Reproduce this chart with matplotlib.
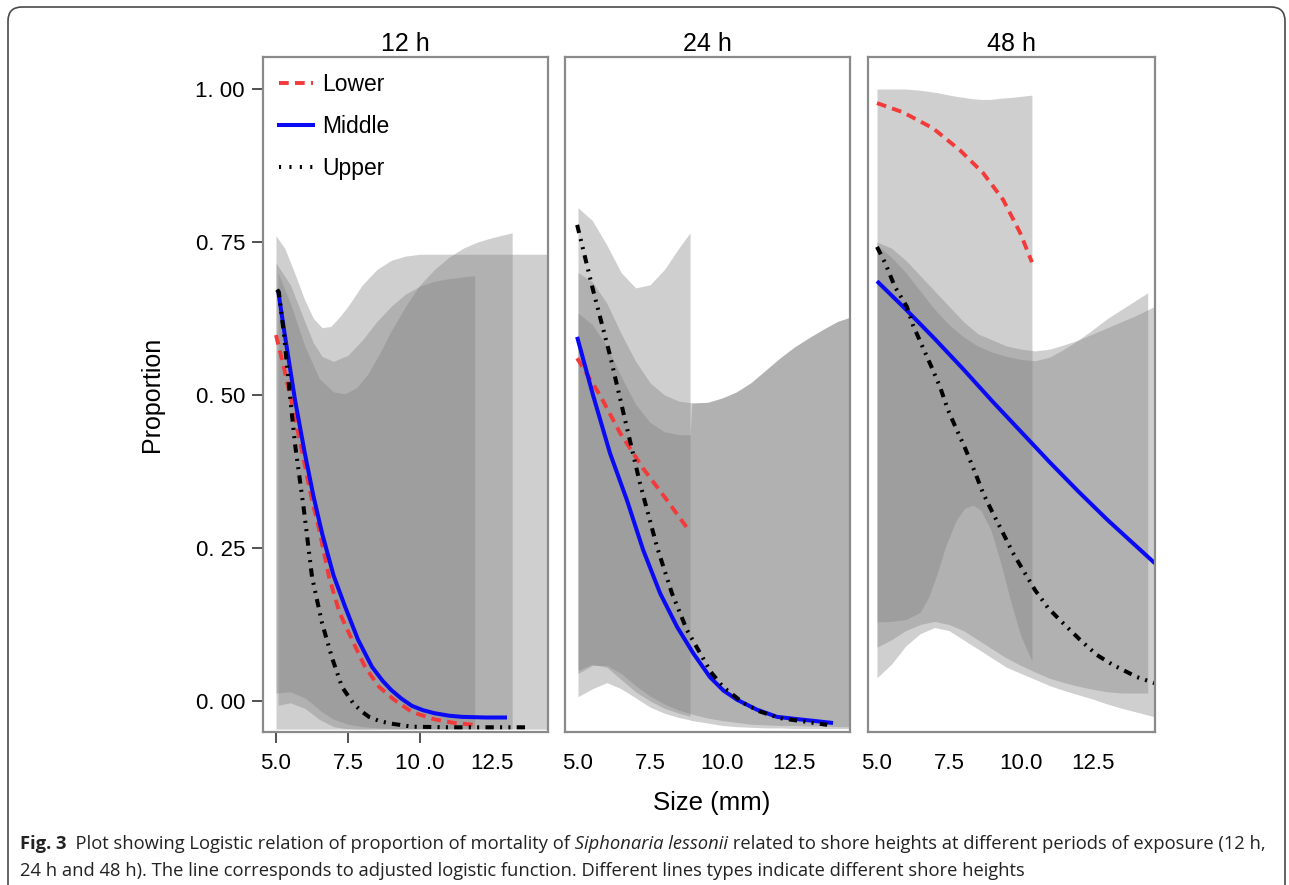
import matplotlib
matplotlib.use('Agg')
import matplotlib.pyplot as plt
from matplotlib.lines import Line2D
from matplotlib.patches import FancyBboxPatch
from matplotlib.transforms import IdentityTransform

plt.rcParams['font.family'] = ['Liberation Sans', 'DejaVu Sans']
plt.rcParams['lines.scale_dashes'] = False

W, H = 1289, 885

# ---------------- data ----------------
panels = ['12 h', '24 h', '48 h']
shore = ['Lower', 'Middle', 'Upper']

# 12 h
lower_x_12 = [5.0, 5.3, 5.63, 6.0, 6.25, 6.5, 6.84, 7.2, 7.64, 8.1, 8.58, 9.1, 9.72, 10.5, 11.2, 11.9]
lower_y_12 = [0.598, 0.54, 0.47, 0.385, 0.328, 0.28, 0.203, 0.145, 0.10, 0.055, 0.023, 0.002, -0.018, -0.03, -0.036, -0.039]
middle_x_12 = [5.07, 5.3, 5.66, 6.0, 6.3, 6.6, 7.0, 7.4, 7.85, 8.33, 8.7, 9.0, 9.35, 9.72, 10.1, 10.5, 11.0, 11.46, 12.3, 13.02]
middle_y_12 = [0.672, 0.6, 0.492, 0.405, 0.335, 0.274, 0.205, 0.154, 0.10, 0.056, 0.033, 0.018, 0.004, -0.008, -0.015, -0.02, -0.024, -0.026, -0.027, -0.027]
upper_x_12 = [5.03, 5.1, 5.28, 5.49, 5.66, 5.97, 6.25, 6.6, 6.95, 7.29, 7.7, 8.0, 8.23, 8.6, 9.0, 9.72, 11.0, 12.5, 13.7]
upper_y_12 = [0.672, 0.668, 0.598, 0.497, 0.42, 0.312, 0.203, 0.127, 0.07, 0.023, -0.005, -0.018, -0.026, -0.033, -0.037, -0.042, -0.043, -0.043, -0.043]

band_lower_x_12 = [5.0, 5.5, 6.0, 6.3, 6.6, 7.0, 7.5, 8.0, 8.5, 9.0, 9.5, 10.0, 10.5, 11.0, 11.5, 11.9]
band_lower_hi_12 = [0.716, 0.68, 0.62, 0.585, 0.563, 0.555, 0.565, 0.59, 0.62, 0.645, 0.665, 0.678, 0.686, 0.69, 0.693, 0.695]
band_lower_lo_12 = [0.013, 0.015, 0.005, -0.006, -0.018, -0.03, -0.038, -0.042, -0.044, -0.045, -0.045, -0.045, -0.045, -0.045, -0.045, -0.045]
band_middle_x_12 = [5.07, 5.5, 6.0, 6.5, 7.0, 7.4, 7.8, 8.2, 8.6, 9.0, 9.5, 10.0, 10.5, 11.0, 11.5, 12.0, 12.5, 13.2]
band_middle_hi_12 = [0.70, 0.65, 0.58, 0.527, 0.505, 0.502, 0.512, 0.535, 0.568, 0.605, 0.645, 0.68, 0.705, 0.725, 0.74, 0.75, 0.757, 0.765]
band_middle_lo_12 = [-0.007, -0.003, -0.012, -0.03, -0.042, -0.045, -0.046, -0.046, -0.046, -0.046, -0.046, -0.046, -0.046, -0.046, -0.046, -0.046, -0.046, -0.046]
band_upper_x_12 = [5.0, 5.3, 5.6, 6.0, 6.3, 6.6, 6.9, 7.2, 7.5, 8.0, 8.5, 9.0, 9.5, 10.0, 11.0, 12.0, 13.0, 14.44]
band_upper_hi_12 = [0.76, 0.74, 0.705, 0.655, 0.625, 0.61, 0.612, 0.627, 0.645, 0.68, 0.705, 0.72, 0.727, 0.73, 0.73, 0.73, 0.73, 0.73]
band_upper_lo_12 = [-0.046] * 18

# 24 h
lower_x_24 = [4.97, 5.76, 6.46, 7.26, 8.09, 8.89]
lower_y_24 = [0.56, 0.50, 0.438, 0.38, 0.328, 0.276]
middle_x_24 = [4.97, 5.52, 6.11, 6.7, 7.26, 7.85, 8.44, 9.0, 9.58, 10.05, 10.52, 11.2, 11.91, 13.85]
middle_y_24 = [0.595, 0.5, 0.405, 0.328, 0.247, 0.176, 0.121, 0.078, 0.039, 0.017, 0.002, -0.014, -0.026, -0.036]
upper_x_24 = [4.97, 5.52, 6.11, 6.63, 7.15, 7.74, 8.26, 8.78, 9.24, 9.6, 10.03, 10.73, 11.3, 12.01, 13.65]
upper_y_24 = [0.778, 0.672, 0.565, 0.46, 0.356, 0.252, 0.176, 0.116, 0.078, 0.048, 0.023, -0.003, -0.017, -0.028, -0.039]

band_lower_x_24 = [5.0, 5.5, 6.0, 6.5, 7.0, 7.5, 8.0, 8.5, 8.89]
band_lower_hi_24 = [0.806, 0.785, 0.745, 0.70, 0.675, 0.68, 0.705, 0.74, 0.765]
band_lower_lo_24 = [0.05, 0.06, 0.055, 0.035, 0.015, 0.0, -0.012, -0.02, -0.025]
band_middle_x_24 = [5.0, 5.5, 6.0, 6.5, 7.0, 7.5, 8.0, 8.5, 8.89, 8.95, 9.5, 10.0, 10.5, 11.0, 11.5, 12.0, 12.5, 13.0, 13.5, 14.0, 14.44]
band_middle_hi_24 = [0.634, 0.615, 0.58, 0.53, 0.485, 0.455, 0.44, 0.435, 0.435, 0.487, 0.488, 0.495, 0.505, 0.52, 0.54, 0.56, 0.578, 0.593, 0.607, 0.62, 0.627]
band_middle_lo_24 = [0.007, 0.02, 0.03, 0.02, 0.005, -0.01, -0.02, -0.027, -0.031, -0.032, -0.036, -0.04, -0.042, -0.043, -0.044, -0.044, -0.045, -0.045, -0.045, -0.045, -0.045]
band_upper_x_24 = [5.0, 5.5, 6.0, 6.5, 7.0, 7.5, 8.0, 8.5, 9.0, 9.5, 10.0, 10.5, 11.0, 11.5, 12.0, 12.5, 13.0, 13.5, 14.0, 14.44]
band_upper_hi_24 = [0.70, 0.685, 0.65, 0.60, 0.555, 0.52, 0.50, 0.49, 0.487, 0.488, 0.495, 0.505, 0.52, 0.54, 0.56, 0.578, 0.593, 0.607, 0.62, 0.627]
band_upper_lo_24 = [0.045, 0.058, 0.058, 0.045, 0.025, 0.008, -0.005, -0.015, -0.022, -0.028, -0.032, -0.035, -0.038, -0.039, -0.04, -0.04, -0.041, -0.041, -0.042, -0.042]

# 48 h
lower_x_48 = [5.0, 5.9, 6.94, 7.88, 8.68, 9.38, 9.97, 10.38]
lower_y_48 = [0.977, 0.962, 0.936, 0.90, 0.863, 0.819, 0.765, 0.717]
middle_x_48 = [5.0, 6.0, 7.0, 8.0, 9.0, 10.0, 11.0, 12.0, 13.0, 14.0, 14.65]
middle_y_48 = [0.686, 0.64, 0.592, 0.542, 0.49, 0.44, 0.39, 0.342, 0.296, 0.253, 0.225]
upper_x_48 = [5.0, 5.28, 5.62, 6.04, 6.25, 6.91, 7.19, 7.47, 7.78, 8.06, 8.4, 8.68, 9.0, 9.38, 9.72,
              10.07, 10.49, 10.94, 11.42, 12.05, 12.64, 13.19, 14.03, 14.65]
upper_y_48 = [0.742, 0.716, 0.677, 0.644, 0.614, 0.544, 0.513, 0.475, 0.442, 0.413, 0.374, 0.34, 0.309, 0.274, 0.242,
              0.214, 0.181, 0.152, 0.129, 0.10, 0.075, 0.059, 0.039, 0.029]

band_lower_x_48 = [5.0, 5.5, 6.0, 6.5, 6.8, 7.1, 7.4, 7.75, 8.05, 8.33, 8.6, 8.95, 9.3, 9.6, 10.0, 10.38]
band_lower_hi_48 = [1.0, 1.0, 1.0, 0.998, 0.996, 0.994, 0.991, 0.988, 0.986, 0.984, 0.983, 0.983, 0.985, 0.986, 0.988, 0.99]
band_lower_lo_48 = [0.129, 0.13, 0.133, 0.145, 0.17, 0.21, 0.255, 0.295, 0.315, 0.32, 0.312, 0.28, 0.225, 0.17, 0.105, 0.065]
band_middle_x_48 = [5.0, 5.5, 6.0, 6.5, 7.0, 7.5, 8.0, 8.5, 9.0, 9.5, 10.0, 10.5, 11.0, 11.5, 12.0, 12.5, 13.0, 13.5, 14.0, 14.65]
band_middle_hi_48 = [0.75, 0.74, 0.72, 0.695, 0.67, 0.645, 0.62, 0.60, 0.59, 0.58, 0.575, 0.572, 0.575, 0.582, 0.59, 0.60, 0.61, 0.62, 0.63, 0.645]
band_middle_lo_48 = [0.038, 0.06, 0.09, 0.11, 0.12, 0.115, 0.10, 0.085, 0.07, 0.055, 0.045, 0.035, 0.025, 0.017, 0.01, 0.003, -0.005, -0.012, -0.018, -0.026]
band_upper_x_48 = [5.0, 5.5, 6.0, 6.5, 7.0, 7.5, 8.0, 8.5, 9.0, 9.5, 10.0, 10.5, 11.0, 11.5, 12.0, 12.5, 13.0, 13.5, 14.0, 14.4]
band_upper_hi_48 = [0.745, 0.725, 0.70, 0.67, 0.64, 0.615, 0.595, 0.58, 0.57, 0.563, 0.558, 0.556, 0.562, 0.575, 0.59, 0.607, 0.625, 0.64, 0.655, 0.667]
band_upper_lo_48 = [0.088, 0.10, 0.115, 0.125, 0.13, 0.125, 0.115, 0.1, 0.085, 0.07, 0.058, 0.047, 0.037, 0.03, 0.024, 0.019, 0.015, 0.013, 0.013, 0.013]

lines = {
    '12 h': [(lower_x_12, lower_y_12), (middle_x_12, middle_y_12), (upper_x_12, upper_y_12)],
    '24 h': [(lower_x_24, lower_y_24), (middle_x_24, middle_y_24), (upper_x_24, upper_y_24)],
    '48 h': [(lower_x_48, lower_y_48), (middle_x_48, middle_y_48), (upper_x_48, upper_y_48)],
}
bands = {
    '12 h': [(band_lower_x_12, band_lower_lo_12, band_lower_hi_12),
             (band_middle_x_12, band_middle_lo_12, band_middle_hi_12),
             (band_upper_x_12, band_upper_lo_12, band_upper_hi_12)],
    '24 h': [(band_lower_x_24, band_lower_lo_24, band_lower_hi_24),
             (band_middle_x_24, band_middle_lo_24, band_middle_hi_24),
             (band_upper_x_24, band_upper_lo_24, band_upper_hi_24)],
    '48 h': [(band_lower_x_48, band_lower_lo_48, band_lower_hi_48),
             (band_middle_x_48, band_middle_lo_48, band_middle_hi_48),
             (band_upper_x_48, band_upper_lo_48, band_upper_hi_48)],
}

x_ticks = [5.0, 7.5, 10.0, 12.5]
x_labels = {'12 h': ['5.0', '7.5', '10 .0', '12.5'],
            '24 h': ['5.0', '7.5', '10.0', '12.5'],
            '48 h': ['5.0', '7.5', '10.0', '12.5']}
y_ticks = [0.0, 0.25, 0.5, 0.75, 1.0]
y_labels = ['0. 00', '0. 25', '0. 50', '0. 75', '1. 00']

# ---------------- styles ----------------
line_styles = [
    dict(color='#f23a3a', lw=2.8, dashes=(7, 4.5)),
    dict(color='#0a0af5', lw=2.9),
    dict(color='black', lw=2.9, dashes=(6, 4.5, 1.5, 4.5, 1.5, 4.5)),
]

# panel frames in pixels (left, right), top/bottom shared
frames = [(263, 548), (565, 850), (868, 1155)]
top_px, bot_px = 57, 732
xlims = [(4.549, 14.444), (4.549, 14.44), (4.6875, 14.653)]
ylim = (-0.0507, 1.0523)

fig = plt.figure(figsize=(W / 100, H / 100), dpi=100)

axes = []
for i, name in enumerate(panels):
    l, r = frames[i]
    ax = fig.add_axes([l / W, (H - bot_px) / H, (r - l) / W, (bot_px - top_px) / H])
    axes.append(ax)
    for x, lo, hi in bands[name]:
        ax.fill_between(x, lo, hi, color='#7f7f7f', alpha=0.37, lw=0)
    for (x, y), st in zip(lines[name], line_styles):
        ax.plot(x, y, solid_capstyle='butt', solid_joinstyle='round', **st)
    ax.set_xlim(*xlims[i])
    ax.set_ylim(*ylim)
    ax.set_xticks(x_ticks, x_labels[name])
    ax.set_title(name, fontsize=18, pad=4)
    for s in ax.spines.values():
        s.set_color('#8a8a8a')
        s.set_linewidth(1.6)
    if i == 0:
        ax.set_yticks(y_ticks, y_labels)
        ax.tick_params(axis='y', length=8, width=1.2, color='#333333', labelsize=16, pad=5)
        ax.tick_params(axis='x', length=8, width=1.2, color='#333333', labelsize=16, pad=7)
        ax.xaxis.get_major_ticks()[3].tick1line.set_visible(False)
    else:
        ax.set_yticks([])
        ax.tick_params(axis='x', length=0, labelsize=16, pad=15)

axes[0].set_ylabel('Proportion', fontsize=18, labelpad=23)

# legend
handles = [Line2D([], [], color='#f23a3a', lw=2.8, dashes=(7, 4.5)),
           Line2D([], [], color='#0a0af5', lw=2.9),
           Line2D([], [], color='black', lw=2.9, dashes=(1.5, 6))]
axes[0].legend(handles, shore, loc='upper left', bbox_to_anchor=(0.055, 0.977), frameon=False,
               borderaxespad=0, borderpad=0, fontsize=16.5, handlelength=1.5,
               handletextpad=0.4, labelspacing=0.85)

fig.text(712 / W, 1 - 803 / H, 'Size (mm)', fontsize=18.5, ha='center', va='center')

# outer rounded frame
frame = FancyBboxPatch((8, -30), 1277, 885 - 7 + 30, boxstyle='round,pad=0,rounding_size=14',
                       transform=IdentityTransform(), fill=False, ec='#4a4a4a', lw=1.2)
fig.patches.append(frame)

# caption
renderer = fig.canvas.get_renderer()
cap_font = ['Open Sans', 'DejaVu Sans']
line1 = [('Fig. 3', 'bold', 'normal'),
         ('  Plot showing Logistic relation of proportion of mortality of', 'normal', 'normal'),
         (' Siphonaria lessonii', 'normal', 'italic'),
         (' related to shore heights at different periods of exposure (12 h,', 'normal', 'normal')]
line2 = [('24 h and 48 h). The line corresponds to adjusted logistic function. '
          'Different lines types indicate different shore heights', 'normal', 'normal')]


def draw_line(pieces, y_px, size):
    x = 20.0
    made = []
    for s, wt, st in pieces:
        t = fig.text(x / W, 1 - y_px / H, s, fontsize=size, fontweight=wt, fontstyle=st,
                     family=cap_font, va='center', ha='left', color='#222222')
        made.append(t)
        x += t.get_window_extent(renderer).width
    return made, x - 20.0


made, width = draw_line(line1, 844, 11)
for t in made:
    t.remove()
size = 11 * 1255.0 / width
draw_line(line1, 844, size)
draw_line(line2, 871, size)

fig.savefig('out.png', dpi=100)
